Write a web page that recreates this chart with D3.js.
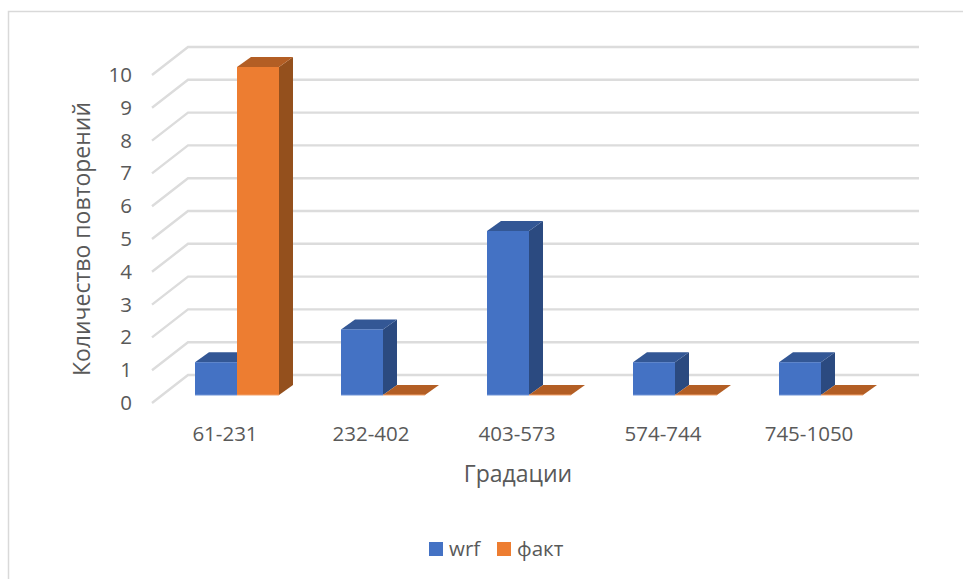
<!DOCTYPE html>
<html>
<head>
<meta charset="utf-8">
<script src="https://cdn.jsdelivr.net/npm/d3@7"></script>
<style>
html, body { margin: 0; padding: 0; background: #fff; }
text { font-family: "Open Sans", sans-serif; fill: #595959; }
</style>
</head>
<body>
<div id="chart"></div>
<script>
var categories = ['61-231', '232-402', '403-573', '574-744', '745-1050'];
var seriesNames = ['wrf', 'факт'];
var wrfValues = [1, 2, 5, 1, 1];
var factValues = [10, 0, 0, 0, 0];
var tickValues = [0, 1, 2, 3, 4, 5, 6, 7, 8, 9, 10];

var colors = {
    wrf: { front: '#4472C4', side: '#2B4A80', top: '#335795', edge: '#6f93d6' },
    'факт': { front: '#ED7D31', side: '#94501D', top: '#B35E24', edge: '#f3a36d' }
};

// floor depth of the 3d box, and where the bars stand on it
var wallDx = 36, wallDy = -28;
var barInsetX = 12, barInsetY = -8;
var barDx = 14, barDy = -10;

var svg = d3.select('#chart').append('svg')
    .attr('width', 963)
    .attr('height', 579)
    .style('display', 'block');

var x = d3.scaleBand().domain(categories).range([152, 882]);
var xSeries = d3.scaleBand().domain(seriesNames).range([31, 115]);
var y = d3.scaleLinear().domain([0, 10]).range([403, 75]);

// outer frame, only top and left are in view
svg.append('path')
    .attr('d', 'M963,11.5H8.5V579')
    .attr('fill', 'none')
    .attr('stroke', '#d9d9d9')
    .attr('stroke-width', 1.5);

// gridlines: side wall diagonal plus back wall
var grid = svg.append('g')
    .attr('fill', 'none')
    .attr('stroke', '#dcdcdc')
    .attr('stroke-width', 2.4);
grid.selectAll('path')
    .data(tickValues)
    .enter()
    .append('path')
    .attr('d', function (d) {
        return 'M' + x.range()[0] + ',' + y(d) +
            'L' + (x.range()[0] + wallDx) + ',' + (y(d) + wallDy) +
            'H' + (x.range()[1] + wallDx + 1);
    });

function drawBar(g, name, left, width, value) {
    var c = colors[name];
    var x0 = left, x1 = left + width;
    var yBase = y(0) + barInsetY, yTop = y(value) + barInsetY;
    if (value > 0) {
        // right side face
        g.append('path')
            .attr('d', 'M' + x1 + ',' + yTop + 'L' + (x1 + barDx) + ',' + (yTop + barDy) +
                'V' + (yBase + barDy) + 'L' + x1 + ',' + yBase + 'Z')
            .attr('fill', c.side);
    }
    g.append('path')
        .attr('d', 'M' + x0 + ',' + yTop + 'L' + (x0 + barDx) + ',' + (yTop + barDy) +
            'H' + (x1 + barDx) + 'L' + x1 + ',' + yTop + 'Z')
        .attr('fill', c.top);
    if (value > 0) {
        g.append('rect')
            .attr('x', x0)
            .attr('y', yTop)
            .attr('width', width)
            .attr('height', yBase - yTop)
            .attr('fill', c.front);
    }
    g.append('line')
        .attr('x1', x0)
        .attr('x2', x1)
        .attr('y1', yBase)
        .attr('y2', yBase)
        .attr('stroke', c.edge)
        .attr('stroke-width', 1);
}

var bars = svg.append('g');
categories.forEach(function (cat, i) {
    var left = x(cat) + barInsetX;
    drawBar(bars, 'wrf', left + xSeries('wrf'), xSeries.bandwidth(), wrfValues[i]);
    drawBar(bars, 'факт', left + xSeries('факт'), xSeries.bandwidth(), factValues[i]);
});

var yAxis = svg.append('g')
    .attr('transform', 'translate(132,0)')
    .call(d3.axisLeft(y).tickValues(tickValues).tickSize(0).tickPadding(0).tickFormat(d3.format('d')));
yAxis.select('.domain').remove();
yAxis.selectAll('text')
    .style('font-family', '"Open Sans", sans-serif')
    .style('font-size', '20.5px')
    .attr('fill', '#595959');

var xAxis = svg.append('g')
    .attr('transform', 'translate(0,426)')
    .call(d3.axisBottom(x).tickSize(0).tickPadding(0));
xAxis.select('.domain').remove();
xAxis.selectAll('text')
    .style('font-family', '"Open Sans", sans-serif')
    .style('font-size', '20.5px')
    .attr('fill', '#595959');

svg.append('text')
    .attr('x', 518)
    .attr('y', 482)
    .attr('text-anchor', 'middle')
    .style('font-size', '23px')
    .text('Градации');

svg.append('text')
    .attr('transform', 'translate(90,239) rotate(-90)')
    .attr('text-anchor', 'middle')
    .style('font-size', '23px')
    .text('Количество повторений');

// legend
var legendX = [429, 497];
var legend = svg.append('g');
seriesNames.forEach(function (name, i) {
    legend.append('rect')
        .attr('x', legendX[i])
        .attr('y', 542)
        .attr('width', 14)
        .attr('height', 14)
        .attr('fill', colors[name].front);
    legend.append('text')
        .attr('x', legendX[i] + 20)
        .attr('y', 556)
        .style('font-size', '20.5px')
        .text(name);
});
</script>
</body>
</html>
